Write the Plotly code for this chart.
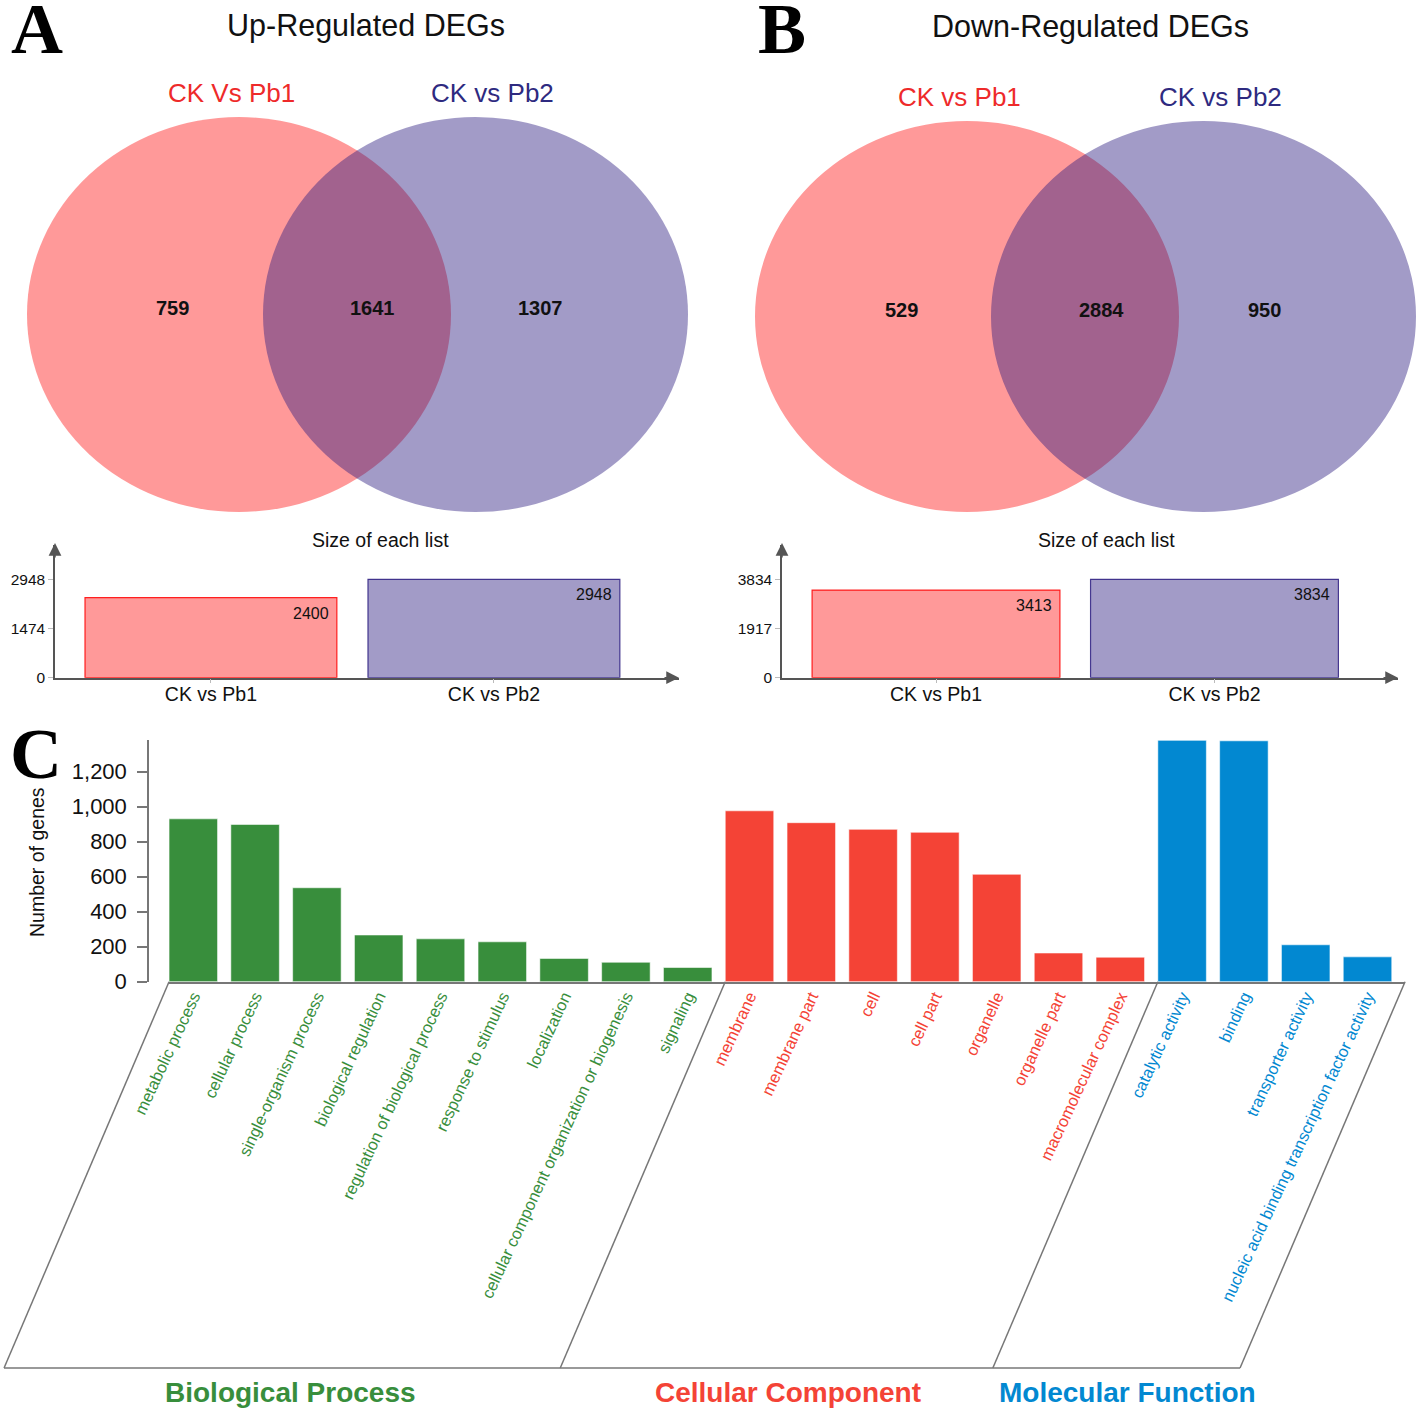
import plotly.graph_objects as go

W, H = 1418, 1408


def px(x):
    return x / W


def py(y):
    return 1 - y / H


# ---------------- data ----------------
set_names = ["CK vs Pb1", "CK vs Pb2"]
up_set_titles = ["CK Vs Pb1", "CK vs Pb2"]
down_set_titles = ["CK vs Pb1", "CK vs Pb2"]
up_venn_counts = [759, 1641, 1307]      # only Pb1, both, only Pb2
down_venn_counts = [529, 2884, 950]
up_sizes = [2400, 2948]
down_sizes = [3413, 3834]
up_ticks = [0, 1474, 2948]
down_ticks = [0, 1917, 3834]

bp_terms = ["metabolic process", "cellular process", "single-organism process",
            "biological regulation", "regulation of biological process",
            "response to stimulus", "localization",
            "cellular component organization or biogenesis", "signaling"]
bp_counts = [931, 899, 537, 267, 245, 228, 133, 111, 81]
cc_terms = ["membrane", "membrane part", "cell", "cell part", "organelle",
            "organelle part", "macromolecular complex"]
cc_counts = [977, 909, 871, 854, 614, 164, 140]
mf_terms = ["catalytic activity", "binding", "transporter activity",
            "nucleic acid binding transcription factor activity"]
mf_counts = [1380, 1377, 211, 142]
go_yticks = [0, 200, 400, 600, 800, 1000, 1200]
group_names = ["Biological Process", "Cellular Component", "Molecular Function"]

# ---------------- style ----------------
FONT = "Liberation Sans, Arial, sans-serif"
SERIF = "Liberation Serif, Times New Roman, serif"
RED_FILL = "rgba(255,0,0,0.40)"
PUR_FILL = "rgba(44,28,128,0.44)"
RED_TXT = "#EE2A2A"
PUR_TXT = "#2E2A80"
GREEN = "#388E3C"
RED = "#F44336"
BLUE = "#0288D1"
GRAY = "#777777"

fig = go.Figure()
shapes = []
annotations = []


def note(text, x, y, size, color="#111", family=FONT, **kw):
    d = dict(text=text, x=px(x), y=py(y), xref="paper", yref="paper", showarrow=False,
             xanchor="center", yanchor="middle",
             font=dict(family=family, size=size, color=color))
    d.update(kw)
    annotations.append(d)


# ---------------- Venn diagrams ----------------
venns = [
    dict(title="Up-Regulated DEGs", tx=366, ty=26, names=up_set_titles,
         nx=[231, 492], ny=93, counts=up_venn_counts, cx=[172, 373, 540], cy=308,
         e1=(27, 451), e2=(263, 688), ey=(117, 512), letter="A", lx=37),
    dict(title="Down-Regulated DEGs", tx=1090, ty=27, names=down_set_titles,
         nx=[960, 1220], ny=97, counts=down_venn_counts, cx=[901, 1101, 1264], cy=310,
         e1=(755, 1179), e2=(991, 1416), ey=(121, 512), letter="B", lx=782),
]
for v in venns:
    for (ex0, ex1), fc in [(v["e1"], RED_FILL), (v["e2"], PUR_FILL)]:
        shapes.append(dict(type="circle", xref="paper", yref="paper",
                           x0=px(ex0), x1=px(ex1), y0=py(v["ey"][1]), y1=py(v["ey"][0]),
                           fillcolor=fc, line=dict(width=0), layer="below"))
    note(v["title"], v["tx"], v["ty"], 30.5)
    for name, x, c in zip(v["names"], v["nx"], [RED_TXT, PUR_TXT]):
        note(name, x, v["ny"], 26, c)
    for cnt, x in zip(v["counts"], v["cx"]):
        note("<b>%d</b>" % cnt, x, v["cy"], 20)
    note("<b>%s</b>" % v["letter"], v["lx"], 29, 72, "#000", SERIF)

# ---------------- size-of-list bar charts ----------------
small = [
    dict(ax="x", ay="y", sizes=up_sizes, ticks=up_ticks, xd=(55, 679),
         xr=(-0.551, 1.654), title_x=380),
    dict(ax="x2", ay="y2", sizes=down_sizes, ticks=down_ticks, xd=(782, 1398),
         xr=(-0.553, 1.659), title_x=1106),
]
y_base, y_top, y_max_px = 677.7, 545.0, 579.3
for i, s in enumerate(small):
    fig.add_trace(go.Bar(
        x=[0, 1], y=s["sizes"], width=0.89,
        marker=dict(color=[RED_FILL, PUR_FILL],
                    line=dict(color=["rgba(255,0,0,0.85)", "rgba(44,28,128,0.85)"], width=1.2)),
        xaxis=s["ax"], yaxis=s["ay"], hoverinfo="skip", showlegend=False))
    ymax = s["ticks"][-1] * (y_base - y_top) / (y_base - y_max_px)
    sfx = "" if i == 0 else str(i + 1)
    fig.layout["xaxis" + sfx] = dict(
        domain=[px(s["xd"][0]), px(s["xd"][1])], range=list(s["xr"]), anchor=s["ay"],
        automargin=False,
        showline=True, linecolor="#555", linewidth=1.5, showgrid=False, zeroline=False,
        tickvals=[0, 1], ticktext=set_names, ticks="outside", ticklen=4, tickcolor="#bbb",
        ticklabelstandoff=-6,
        tickfont=dict(family=FONT, size=19.5, color="#111"))
    fig.layout["yaxis" + sfx] = dict(
        domain=[py(y_base), py(y_top)], range=[0, ymax], anchor=s["ax"],
        automargin=False,
        showline=True, linecolor="#555", linewidth=1.5, showgrid=False, zeroline=False,
        tickvals=s["ticks"], ticks="outside", ticklen=5, tickcolor="#bbb",
        tickfont=dict(family=FONT, size=15.5, color="#111"))
    for j, val in enumerate(s["sizes"]):
        annotations.append(dict(text=str(val), x=j + 0.445, y=val, xref=s["ax"], yref=s["ay"],
                                xanchor="right", yanchor="top", xshift=-6, yshift=-5,
                                showarrow=False, font=dict(family=FONT, size=16, color="#111")))
    note("Size of each list", s["title_x"], 540, 19.5)
    # arrow heads
    annotations.append(dict(text="", x=px(s["xd"][1]), y=py(y_base), xref="paper", yref="paper",
                            showarrow=True, ax=-16, ay=0, arrowhead=2, arrowsize=1.7,
                            arrowwidth=1.5, arrowcolor="#555"))
    annotations.append(dict(text="", x=px(s["xd"][0]), y=py(y_top - 2), xref="paper", yref="paper",
                            showarrow=True, ax=0, ay=16, arrowhead=2, arrowsize=1.7,
                            arrowwidth=1.5, arrowcolor="#555"))

# ---------------- GO bar chart ----------------
groups = [(bp_terms, bp_counts, GREEN), (cc_terms, cc_counts, RED), (mf_terms, mf_counts, BLUE)]
all_terms = []
pos = 0
starts = []
for terms, counts, col in groups:
    starts.append(pos)
    xs = list(range(pos, pos + len(terms)))
    fig.add_trace(go.Bar(x=xs, y=counts, width=0.785, xaxis="x3", yaxis="y3",
                         marker=dict(color=col, line=dict(color="rgba(255,255,255,0.55)", width=1)),
                         hoverinfo="skip", showlegend=False))
    all_terms += ['<span style="color:%s">%s</span>' % (col, t) for t in terms]
    pos += len(terms)
n_terms = pos

x0_px, step_px = 193.3, 61.8
half = 0.785 / 2
x_lo = -half
x_hi = n_terms - half
fig.layout["xaxis3"] = dict(
    domain=[px(x0_px + step_px * x_lo), px(x0_px + step_px * x_hi)], range=[x_lo, x_hi],
    anchor="y3", automargin=False,
    showline=True, linecolor=GRAY, linewidth=1.5, showgrid=False, zeroline=False,
    tickvals=list(range(n_terms)), ticktext=all_terms, tickangle=-65, ticks="",
    ticklabelstandoff=-3,
    tickfont=dict(family=FONT, size=16.5, color=GREEN))
fig.layout["yaxis3"] = dict(
    domain=[py(981.7), py(740.3)], range=[0, max(mf_counts)], anchor="free", position=px(148),
    automargin=False,
    showline=True, linecolor=GRAY, linewidth=1.5, showgrid=False, zeroline=False,
    tickvals=go_yticks, tickformat=",", ticks="outside", ticklen=10, tickwidth=1.5,
    tickcolor=GRAY, ticklabelstandoff=6, tickfont=dict(family=FONT, size=22, color="#111"))
note("Number of genes", 37, 862, 19.5, textangle=-90)
note("<b>C</b>", 36, 754, 72, "#000", SERIF)

# parallelogram frame under the GO axis
slant_dx, top_y, bot_y = -165, 981.7, 1368
edges = starts + [n_terms]
for e in edges:
    xt = x0_px + step_px * (e - half)
    shapes.append(dict(type="line", xref="paper", yref="paper",
                       x0=px(xt), y0=py(top_y), x1=px(xt + slant_dx), y1=py(bot_y),
                       line=dict(color=GRAY, width=1.5)))
shapes.append(dict(type="line", xref="paper", yref="paper",
                   x0=px(x0_px + step_px * (edges[0] - half) + slant_dx), y0=py(bot_y),
                   x1=px(x0_px + step_px * (edges[-1] - half) + slant_dx), y1=py(bot_y),
                   line=dict(color=GRAY, width=1.5)))
for name, cx, col in zip(group_names, [290, 788, 1127], [GREEN, RED, BLUE]):
    note("<b>%s</b>" % name, cx, 1392, 28, col)

fig.update_layout(width=W, height=H, margin=dict(l=0, r=0, t=0, b=0, pad=0, autoexpand=False),
                  paper_bgcolor="white", plot_bgcolor="rgba(0,0,0,0)",
                  shapes=shapes, annotations=annotations, bargap=0.1,
                  font=dict(family=FONT))
fig.write_html("out.html", config={"displayModeBar": False},
               post_script="document.body.style.margin='0';")
